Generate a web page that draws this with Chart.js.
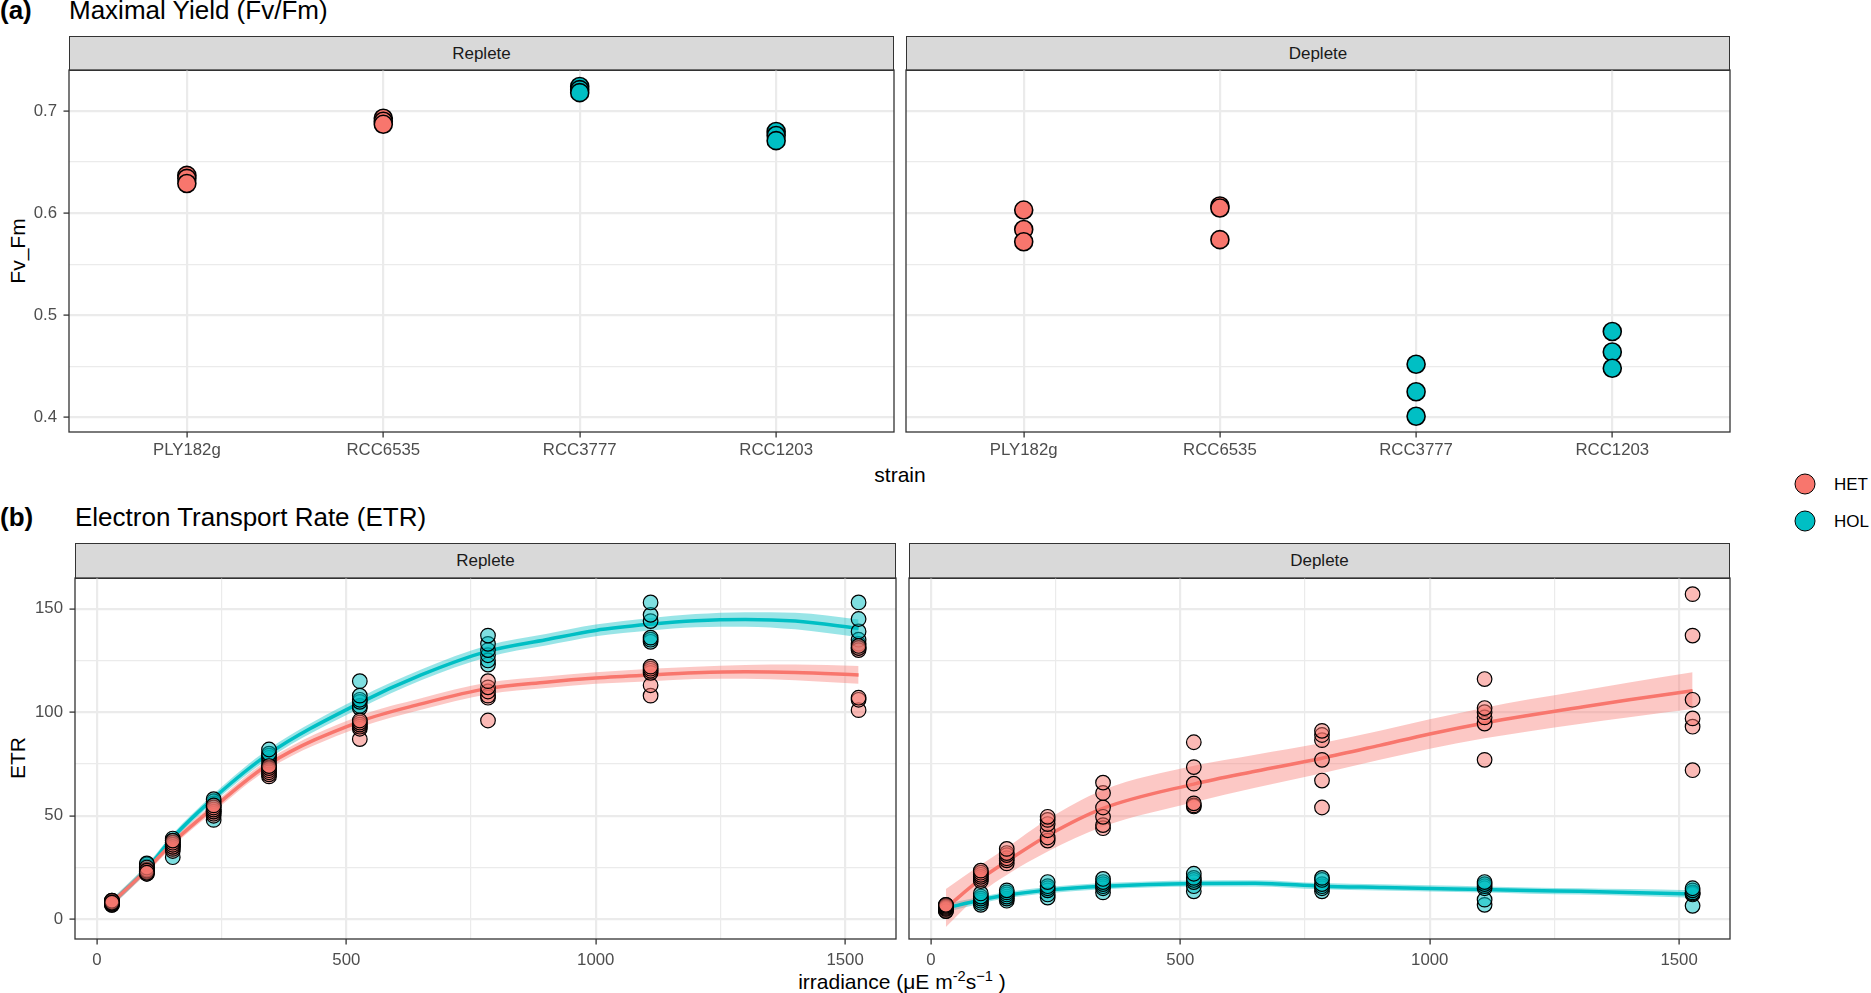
<!DOCTYPE html>
<html>
<head>
<meta charset="utf-8">
<script src="https://cdn.jsdelivr.net/npm/chart.js@4.4.0/dist/chart.umd.min.js"></script>
<style>
  body { margin: 0; width: 1871px; height: 993px; background: #fff; position: relative; overflow: hidden;
         font-family: 'Liberation Sans', Arial, sans-serif; }
  .txt { position: absolute; white-space: nowrap; line-height: 1; color: #000; }
  .strip { position: absolute; background: #D9D9D9; border: 1px solid #333; box-sizing: border-box;
           color: #1A1A1A; font-size: 17px; display: flex; align-items: center; justify-content: center; }
  .key { position: absolute; width: 21px; height: 21px; border-radius: 50%; border: 1.5px solid #000;
         box-sizing: border-box; transform: translate(-50%, -50%); }
  canvas { position: absolute; }
  sup { font-size: 0.7em; line-height: 0; vertical-align: 0.55em; }
</style>
</head>
<body>

<div class="txt" style="left:0; top:-3px; font-size:26px; font-weight:bold;">(a)</div>
<div class="txt" style="left:69px; top:-3px; font-size:26px;">Maximal Yield (Fv/Fm)</div>
<div class="txt" style="left:0; top:504px; font-size:26px; font-weight:bold;">(b)</div>
<div class="txt" style="left:75px; top:504px; font-size:26px;">Electron Transport Rate (ETR)</div>

<div class="strip" style="left:69px; top:36px; width:825px; height:35px;">Replete</div>
<div class="strip" style="left:906px; top:36px; width:824px; height:35px;">Deplete</div>
<div class="strip" style="left:75px; top:543px; width:821px; height:36px;">Replete</div>
<div class="strip" style="left:909px; top:543px; width:821px; height:36px;">Deplete</div>

<div class="txt" style="left:900px; top:464px; font-size:21px; transform:translateX(-50%);">strain</div>
<div class="txt" style="left:902px; top:971px; font-size:21px; transform:translateX(-50%);">irradiance (μE m<sup>-2</sup>s<sup>−1</sup> )</div>
<div class="txt" style="left:17px; top:251px; font-size:21px; transform:translate(-50%,-50%) rotate(-90deg);">Fv_Fm</div>
<div class="txt" style="left:17px; top:758px; font-size:21px; transform:translate(-50%,-50%) rotate(-90deg);">ETR</div>

<div class="key" style="left:1805px; top:484px; background:#F8766D;"></div>
<div class="key" style="left:1805px; top:521px; background:#00BFC4;"></div>
<div class="txt" style="left:1834px; top:476px; font-size:17px;">HET</div>
<div class="txt" style="left:1834px; top:513px; font-size:17px;">HOL</div>

<canvas id="fvfmReplete"></canvas>
<canvas id="fvfmDeplete"></canvas>
<canvas id="etrReplete"></canvas>
<canvas id="etrDeplete"></canvas>

<script>
// ---- data ----
const strains = ['PLY182g', 'RCC6535', 'RCC3777', 'RCC1203'];
const strainGroup = ['HET', 'HET', 'HOL', 'HOL'];

// Fv/Fm, 3 replicates per strain
const fvfmReplete = [
  [0.637, 0.634, 0.629],
  [0.693, 0.690, 0.687],
  [0.724, 0.721, 0.718],
  [0.680, 0.676, 0.671]
];
const fvfmDeplete = [
  [0.603, 0.584, 0.572],
  [0.607, 0.605, 0.574],
  [0.452, 0.425, 0.401],
  [0.484, 0.464, 0.448]
];
const fvfmTicks = [0.4, 0.5, 0.6, 0.7];
const fvfmMinor = [0.45, 0.55, 0.65];

// ETR, 6 points (2 strains x 3 reps) per light step
const irradiance = [30, 100, 152, 234, 345, 527, 784, 1110, 1527];
const etrRepleteHET = [
  [7, 7.5, 8, 8.5, 9, 8],
  [22, 23, 24, 25, 23.5, 22.5],
  [33, 34, 35, 36, 37, 38],
  [50, 51, 52, 53, 54, 55],
  [69, 70, 71, 72, 73, 74],
  [87, 92, 93, 94, 95, 96],
  [96, 107, 108, 110, 112, 115],
  [108, 113, 119, 120, 121, 122],
  [101, 106, 107, 130, 131, 132]
];
const etrRepleteHOL = [
  [7.5, 8, 8.5, 9, 8, 7],
  [22, 23, 24.5, 25.5, 26.5, 27],
  [30, 35, 36, 37, 38, 39],
  [48, 52, 55, 56, 57, 58],
  [74, 76, 78, 79, 80, 82],
  [102, 103, 105, 106, 108, 115],
  [123, 125, 127.5, 130, 133, 137],
  [134, 135, 136, 144, 147, 153],
  [131, 133, 135, 139, 145, 153]
];
const etrDepleteHET = [
  [4, 5, 5.5, 6, 6.5, 7],
  [18.5, 19.5, 20.5, 21.5, 22.5, 23.5],
  [27, 28.5, 29.5, 31, 32, 34],
  [38, 39.5, 43, 46, 48, 49.5],
  [44, 45.5, 49.5, 54, 61, 66],
  [54.5, 55, 56, 65.5, 73.5, 85.5],
  [54, 67, 77, 86.5, 89, 91],
  [77, 94.5, 97.5, 100, 102, 116],
  [72, 93, 97, 106, 137, 157]
];
const etrDepleteHOL = [
  [4, 4.5, 5, 5.5, 6, 7],
  [7, 8, 9, 10, 11, 12.5],
  [9, 10, 11, 12, 13, 14],
  [10.5, 12, 14, 15, 16, 18],
  [13, 15, 16, 17, 18, 19.5],
  [13.5, 16, 18, 19, 20, 22],
  [13.5, 15, 16, 17, 19, 20],
  [7, 9.5, 15, 16, 17, 18],
  [6.5, 12, 12.5, 13, 14, 15]
];

// smoothed fits and ribbon half-widths, read at these light levels
const fitIrradiance = [30, 100, 152, 234, 345, 527, 650, 784, 900, 1000, 1110, 1200, 1300, 1400, 1527];
const fitRepleteHET = [8, 24, 37, 54, 75, 95.5, 104, 111.5, 114.5, 116.5, 118, 119, 119.5, 119.2, 118];
const seRepleteHET  = [1.8, 1.8, 1.8, 2, 2.3, 2.8, 2.8, 2.8, 2.8, 2.8, 3, 3, 3.3, 3.8, 4.3];
const fitRepleteHOL = [8, 24.5, 39.5, 58.5, 80, 104.5, 118, 129.5, 135, 139.5, 142.5, 144.2, 144.8, 144, 140.5];
const seRepleteHOL  = [1.8, 1.8, 1.8, 2, 2.3, 2.6, 2.6, 2.8, 2.8, 2.8, 3, 3.2, 3.5, 4, 4.3];
const fitDepleteHET = [5.5, 19.5, 28, 40.5, 53.6, 65.3, 71.5, 77.8, 84, 89.5, 94.8, 98.5, 102.3, 106, 110.4];
const seDepleteHET  = [9.2, 6.8, 6.6, 7.8, 8.8, 8.8, 8, 7.3, 7, 7.1, 7.4, 7.7, 8, 8.4, 8.9];
const fitDepleteHOL = [5.4, 9.3, 11.7, 14.1, 16, 17.3, 17.4, 16, 15.4, 14.9, 14.4, 13.9, 13.5, 13, 12.2];
const seDepleteHOL  = [2, 1.6, 1.5, 1.5, 1.5, 1.5, 1.5, 1.5, 1.5, 1.5, 1.5, 1.5, 1.5, 1.6, 1.8];

const irrTicks = [0, 500, 1000, 1500];
const irrMinor = [250, 750, 1250];
const etrTicks = [0, 50, 100, 150];
const etrMinor = [25, 75, 125];

const COLORS = { HET: '#F8766D', HOL: '#00BFC4' };

Chart.defaults.font.family = "'Liberation Sans', Arial, sans-serif";
Chart.defaults.animation = false;

function rgba(hex, a) {
  const n = parseInt(hex.slice(1), 16);
  return 'rgba(' + (n >> 16) + ',' + ((n >> 8) & 255) + ',' + (n & 255) + ',' + a + ')';
}

// panel border drawn over everything, like theme_bw
const panelBorder = {
  id: 'panelBorder',
  afterDraw(chart) {
    const a = chart.chartArea;
    const ctx = chart.ctx;
    ctx.save();
    ctx.strokeStyle = '#333333';
    ctx.lineWidth = 1.3;
    ctx.strokeRect(a.left, a.top, a.right - a.left, a.bottom - a.top);
    ctx.restore();
  }
};

function axis(o) {
  const major = o.major;
  const all = major.concat(o.minor || []);
  const isMajor = c => c.tick && major.includes(c.tick.value);
  return {
    type: 'linear',
    min: o.min,
    max: o.max,
    afterBuildTicks: s => { s.ticks = all.map(v => ({ value: v })); },
    afterFit: s => {
      // fixed axis size and no label overhang, so the panels line up exactly
      if (s.isHorizontal()) s.height = o.size; else s.width = o.size;
      s.paddingTop = 0; s.paddingBottom = 0; s.paddingLeft = 0; s.paddingRight = 0;
    },
    border: { display: false },
    grid: {
      color: '#EBEBEB',
      lineWidth: c => isMajor(c) ? 2.2 : 1.2,
      drawTicks: o.labels,
      tickLength: 5.5,
      tickWidth: 1.3,
      tickColor: c => isMajor(c) ? '#333333' : 'rgba(0,0,0,0)'
    },
    ticks: {
      display: o.labels,
      padding: o.pad,
      autoSkip: false,
      maxRotation: 0,
      color: '#4D4D4D',
      font: { size: 16.8 },
      callback: v => major.includes(v) ? o.fmt(v) : ''
    }
  };
}

function pointSet(points, color, alpha, radius, bw) {
  return {
    type: 'scatter',
    data: points,
    backgroundColor: rgba(color, alpha),
    borderColor: '#000000',
    borderWidth: bw,
    pointBackgroundColor: rgba(color, alpha),
    pointBorderColor: '#000000',
    pointBorderWidth: bw,
    pointRadius: radius,
    order: 0
  };
}

function fitSets(fit, se, color) {
  const line = fitIrradiance.map((x, i) => ({ x: x, y: fit[i] }));
  const hi = fitIrradiance.map((x, i) => ({ x: x, y: fit[i] + se[i] }));
  const lo = fitIrradiance.map((x, i) => ({ x: x, y: fit[i] - se[i] }));
  const base = { type: 'line', showLine: true, pointRadius: 0, cubicInterpolationMode: 'monotone' };
  return [
    Object.assign({}, base, { data: hi, borderColor: 'rgba(0,0,0,0)', borderWidth: 0,
                              fill: '+1', backgroundColor: rgba(color, 0.4), order: 2 }),
    Object.assign({}, base, { data: lo, borderColor: 'rgba(0,0,0,0)', borderWidth: 0, fill: false, order: 2 }),
    Object.assign({}, base, { data: line, borderColor: color, borderWidth: 3.5, fill: false, order: 1 })
  ];
}

// area = plot panel in page pixels, yw = width of the y axis strip, xh = height of the x axis strip
function makePanel(id, area, yw, xh, datasets, xAxis, yAxis) {
  const cv = document.getElementById(id);
  const w = yw + area.w + 4;
  const h = area.h + xh + 2;
  cv.width = w;
  cv.height = h;
  cv.style.left = (area.x - yw - 2) + 'px';
  cv.style.top = (area.y - 2) + 'px';
  cv.style.width = w + 'px';
  cv.style.height = h + 'px';
  xAxis.size = xh;
  yAxis.size = yw;
  new Chart(cv, {
    type: 'scatter',
    data: { datasets: datasets },
    options: {
      responsive: false,
      devicePixelRatio: 1,
      events: [],
      layout: { autoPadding: false, padding: { left: 2, top: 2, right: 2, bottom: 0 } },
      plugins: { legend: { display: false }, tooltip: { enabled: false } },
      scales: { x: axis(xAxis), y: axis(yAxis) }
    },
    plugins: [panelBorder]
  });
}

function fvfmPoints(values, group) {
  const pts = [];
  values.forEach((reps, i) => {
    if (strainGroup[i] !== group) return;
    reps.forEach(v => pts.push({ x: i, y: v }));
  });
  return pts;
}

function etrPoints(values) {
  const pts = [];
  values.forEach((reps, i) => reps.forEach(v => pts.push({ x: irradiance[i], y: v })));
  return pts;
}

function fvfmDatasets(values) {
  return [
    pointSet(fvfmPoints(values, 'HET'), COLORS.HET, 1, 9, 1.6),
    pointSet(fvfmPoints(values, 'HOL'), COLORS.HOL, 1, 9, 1.6)
  ];
}

function etrDatasets(het, hol, fitHet, seHet, fitHol, seHol) {
  return [
    pointSet(etrPoints(het), COLORS.HET, 0.5, 7.3, 1.2),
    pointSet(etrPoints(hol), COLORS.HOL, 0.5, 7.3, 1.2)
  ].concat(fitSets(fitHet, seHet, COLORS.HET), fitSets(fitHol, seHol, COLORS.HOL));
}

const strainAxis = labels => ({ min: -0.6, max: 3.6, major: [0, 1, 2, 3], labels: labels, pad: 3,
                                fmt: v => strains[v] });
const fvfmAxis = labels => ({ min: 0.3856, max: 0.7402, major: fvfmTicks, minor: fvfmMinor,
                              labels: labels, pad: 6.5, fmt: v => v.toFixed(1) });
const irrAxis = () => ({ min: -44, max: 1602, major: irrTicks, minor: irrMinor, labels: true, pad: 6,
                         fmt: v => String(v) });
const etrAxis = labels => ({ min: -9.5, max: 164.8, major: etrTicks, minor: etrMinor,
                             labels: labels, pad: 6.5, fmt: v => String(v) });

makePanel('fvfmReplete', { x: 69, y: 70, w: 825, h: 362 }, 69, 35,
  fvfmDatasets(fvfmReplete), strainAxis(true), fvfmAxis(true));
makePanel('fvfmDeplete', { x: 906, y: 70, w: 824, h: 362 }, 0, 35,
  fvfmDatasets(fvfmDeplete), strainAxis(true), fvfmAxis(false));
makePanel('etrReplete', { x: 75, y: 578, w: 821, h: 361 }, 75, 52,
  etrDatasets(etrRepleteHET, etrRepleteHOL, fitRepleteHET, seRepleteHET, fitRepleteHOL, seRepleteHOL),
  irrAxis(), etrAxis(true));
makePanel('etrDeplete', { x: 909, y: 578, w: 821, h: 361 }, 0, 52,
  etrDatasets(etrDepleteHET, etrDepleteHOL, fitDepleteHET, seDepleteHET, fitDepleteHOL, seDepleteHOL),
  irrAxis(), etrAxis(false));
</script>
</body>
</html>
